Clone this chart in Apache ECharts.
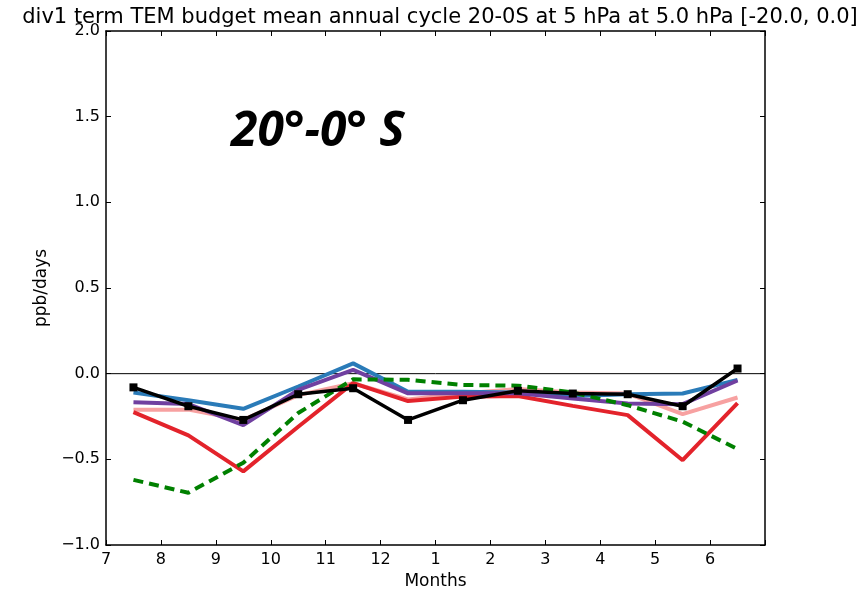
<!DOCTYPE html>
<html>
<head>
<meta charset="utf-8">
<script src="https://cdn.jsdelivr.net/npm/echarts@6/dist/echarts.min.js"></script>
<style>html,body{margin:0;padding:0;background:#fff}#c{width:861px;height:592px}</style>
</head>
<body>
<div id="c"></div>
<script>
const monthLabels = ['7','8','9','10','11','12','1','2','3','4','5','6'];
const xMid = [0.5,1.5,2.5,3.5,4.5,5.5,6.5,7.5,8.5,9.5,10.5,11.5];
const yTicks = [-1.0,-0.5,0.0,0.5,1.0,1.5,2.0];
const blackVals  = [-0.08,-0.19,-0.27,-0.12,-0.085,-0.27,-0.155,-0.10,-0.116,-0.12,-0.19,0.03];
const blueVals   = [-0.11,-0.155,-0.205,-0.075,0.06,-0.105,-0.105,-0.11,-0.13,-0.12,-0.116,-0.036];
const purpleVals = [-0.167,-0.177,-0.30,-0.095,0.022,-0.115,-0.115,-0.115,-0.145,-0.174,-0.178,-0.04];
const pinkVals   = [-0.21,-0.21,-0.27,-0.125,-0.056,-0.15,-0.115,-0.09,-0.11,-0.116,-0.236,-0.139];
const redVals    = [-0.225,-0.36,-0.57,-0.31,-0.055,-0.16,-0.134,-0.13,-0.188,-0.242,-0.505,-0.172];
const greenVals  = [-0.62,-0.695,-0.52,-0.23,-0.033,-0.036,-0.066,-0.07,-0.11,-0.184,-0.28,-0.44];

function pairs(v){ return xMid.map((x,i)=>[x,v[i]]); }
const chart = echarts.init(document.getElementById('c'), null, {renderer:'canvas'});
const axisCommon = {
  axisLine:{show:true,onZero:false,lineStyle:{color:'#000',width:1.5}},
  axisTick:{show:true,inside:true,length:5,lineStyle:{color:'#000',width:1}},
  splitLine:{show:false}
};
function lineSeries(name, vals, color, width, extra){
  return Object.assign({
    name, type:'line', data:pairs(vals), xAxisIndex:0, yAxisIndex:0,
    showSymbol:false, symbol:'none', animation:false,
    lineStyle:{color, width}, itemStyle:{color}
  }, extra||{});
}
chart.setOption({
  animation:false,
  title:{text:'div1 term TEM budget mean annual cycle 20-0S at 5 hPa at 5.0 hPa [-20.0, 0.0]',
    left:435, top:2, textAlign:'center',
    textStyle:{fontFamily:'DejaVu Sans',fontSize:21,fontWeight:'normal',color:'#000'}},
  grid:{left:106,right:96,top:31,bottom:47,containLabel:false,outerBoundsMode:'none'},
  xAxis:[
    Object.assign({type:'value',min:0,max:12,interval:1,position:'bottom',
      name:'Months',nameLocation:'middle',nameGap:27,
      nameTextStyle:{fontFamily:'DejaVu Sans',fontSize:17,color:'#000'},
      axisLabel:{fontFamily:'DejaVu Sans',fontSize:16,color:'#000',margin:7,
        formatter:v=> (monthLabels[v]!==undefined? monthLabels[v] : '')}}, axisCommon),
    Object.assign({type:'value',min:0,max:12,interval:1,position:'top',axisLabel:{show:false}}, axisCommon)
  ],
  yAxis:[
    Object.assign({type:'value',min:-1,max:2,interval:0.5,position:'left',
      name:'ppb/days',nameLocation:'middle',nameGap:51,nameRotate:90,
      nameTextStyle:{fontFamily:'DejaVu Sans',fontSize:17,color:'#000'},
      axisLabel:{fontFamily:'DejaVu Sans',fontSize:16,color:'#000',margin:6,
        formatter:v=>{const t=yTicks.find(k=>Math.abs(k-v)<1e-9); const s=(t!==undefined?t:v).toFixed(1); return s.replace('-','\u2212');}}}, axisCommon),
    Object.assign({type:'value',min:-1,max:2,interval:0.5,position:'right',axisLabel:{show:false}}, axisCommon)
  ],
  series:[
    {type:'line',data:[[0,0],[12,0]],symbol:'none',silent:true,lineStyle:{color:'#000',width:1},z:1},
    lineSeries('pink', pinkVals, '#f7a1a1', 4),
    lineSeries('red', redVals, '#e3232b', 4),
    lineSeries('blue', blueVals, '#2a7bb8', 4),
    lineSeries('purple', purpleVals, '#7040a0', 4),
    lineSeries('green', greenVals, '#008000', 4, {lineStyle:{color:'#008000',width:4,type:[10,6]}}),
    lineSeries('black', blackVals, '#000000', 3.5, {showSymbol:true,symbol:'rect',symbolSize:8})
  ],
  graphic:[{type:'text',left:231,top:108,style:{text:'20°-0° S',fontFamily:'Open Sans',fontStyle:'italic',fontWeight:'bold',fontSize:48,fill:'#000'}}]
});
</script>
</body>
</html>
